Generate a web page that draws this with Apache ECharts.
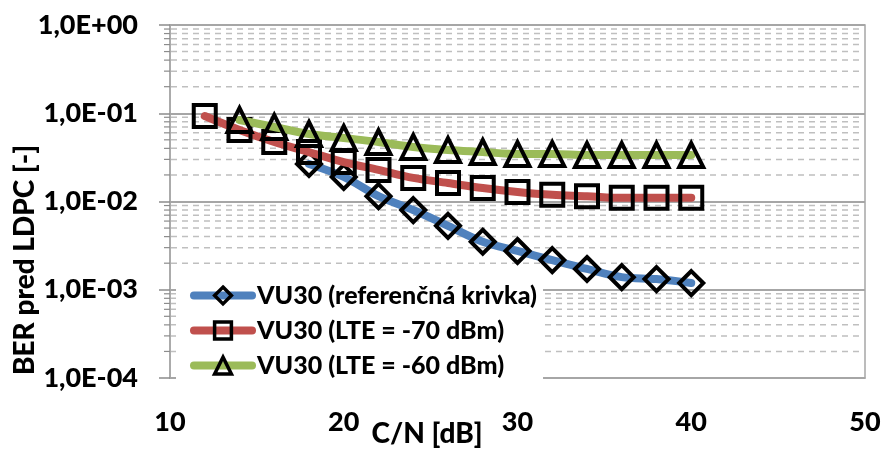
<!DOCTYPE html>
<html>
<head>
<meta charset="utf-8">
<script src="https://cdn.jsdelivr.net/npm/echarts@6/dist/echarts.min.js"></script>
<style>
html,body{margin:0;padding:0;background:#fff;}
#chart{width:885px;height:450px;}
</style>
</head>
<body>
<div id="chart"></div>
<script>
// ---- data ----
const seriesNames = ['VU30 (referenčná krivka)', 'VU30 (LTE = -70 dBm)', 'VU30 (LTE = -60 dBm)'];
const cnRef = [18, 20, 22, 24, 26, 28, 30, 32, 34, 36, 38, 40];
const berRef = [0.0266, 0.0190, 0.0115, 0.0080, 0.0053, 0.0035, 0.00275, 0.00217, 0.00172, 0.00139, 0.00132, 0.00119];
const cnLte70 = [12, 14, 16, 18, 20, 22, 24, 26, 28, 30, 32, 34, 36, 38, 40];
const berLte70 = [0.093, 0.0646, 0.0472, 0.0363, 0.028, 0.0228, 0.0185, 0.0162, 0.0142, 0.0128, 0.0119, 0.0115, 0.0110, 0.0110, 0.0110];
const cnLte60 = [14, 16, 18, 20, 22, 24, 26, 28, 30, 32, 34, 36, 38, 40];
const berLte60 = [0.0839, 0.0699, 0.0582, 0.0524, 0.0472, 0.0415, 0.0383, 0.0364, 0.0345, 0.0345, 0.0336, 0.0336, 0.0336, 0.0336];
const xTickLabels = ['10', '20', '30', '40', '50'];
const yTickValues = [1e-4, 1e-3, 1e-2, 1e-1, 1];
const yTickLabels = ['1,0E-04', '1,0E-03', '1,0E-02', '1,0E-01', '1,0E+00'];
const xTitle = 'C/N [dB]';
const yTitle = 'BER pred LDPC [-]';
const minorMultipliers = [2, 3, 4, 5, 6, 7, 8, 9];
const minorDecades = [1e-4, 1e-3, 1e-2, 1e-1];

// ---- build ----
const FONT = 'Lato';
const FW = 900;
const colors = ['#4F81BD', '#C0504D', '#9BBB59'];
const symbols = ['diamond', 'rect', 'triangle'];
const symbolSizes = [24, 22, 24];
const xs = [cnRef, cnLte70, cnLte60];
const ys = [berRef, berLte70, berLte60];

const minorValues = [];
minorDecades.forEach(d => minorMultipliers.forEach(m => minorValues.push(+(m * d).toPrecision(6))));

function yLabel(v) {
  for (let i = 0; i < yTickValues.length; i++) {
    if (Math.abs(Math.log10(v) - Math.log10(yTickValues[i])) < 1e-6) return yTickLabels[i];
  }
  return '';
}

const series = [];
// minor grid lines + minor ticks
series.push({
  type: 'custom',
  name: '__minor',
  coordinateSystem: 'cartesian2d',
  clip: false,
  silent: true,
  z: 1,
  data: minorValues.map(v => [10, v]),
  renderItem: function (params, api) {
    const p = api.coord([api.value(0), api.value(1)]);
    const pe = api.coord([50, api.value(1)]);
    return {
      type: 'group',
      children: [
        { type: 'line', shape: { x1: p[0] + 1, y1: p[1], x2: pe[0] - 1, y2: p[1] },
          style: { stroke: '#BFBFBF', lineWidth: 1.5, lineDash: [6, 5] } },
        { type: 'line', shape: { x1: p[0] - 6, y1: p[1], x2: p[0], y2: p[1] },
          style: { stroke: '#8C8C8C', lineWidth: 1.2 } }
      ]
    };
  }
});
for (let s = 0; s < 3; s++) {
  series.push({
    type: 'line',
    name: seriesNames[s],
    data: xs[s].map((x, i) => [x, ys[s][i]]),
    smooth: 0.35,
    symbol: symbols[s],
    symbolSize: symbolSizes[s],
    showAllSymbol: true,
    z: 3 + s,
    lineStyle: { color: colors[s], width: 8, cap: 'round', join: 'round' },
    itemStyle: { color: 'rgba(255,255,255,0)', borderColor: '#000', borderWidth: 4 },
    emphasis: { disabled: true },
    animation: false
  });
}

const chart = echarts.init(document.getElementById('chart'), null, { renderer: 'canvas' });
chart.setOption({
  animation: false,
  backgroundColor: '#fff',
  grid: {
    left: 170, right: 20, top: 25, bottom: 72,
    show: true, borderColor: '#A6A6A6', borderWidth: 1.5, backgroundColor: 'transparent'
  },
  xAxis: {
    type: 'value', min: 10, max: 50, interval: 10,
    axisLine: { show: true, lineStyle: { color: '#A6A6A6', width: 1.5 } },
    axisTick: { show: false },
    splitLine: { show: false },
    axisLabel: {
      margin: 31, color: '#000', fontFamily: FONT, fontWeight: FW, fontSize: 27,
      formatter: v => xTickLabels[Math.round((v - 10) / 10)]
    }
  },
  yAxis: {
    type: 'log', logBase: 10, min: 1e-4, max: 1,
    axisLine: { show: true, lineStyle: { color: '#A6A6A6', width: 1.5 } },
    axisTick: { show: true, inside: false, length: 11, lineStyle: { color: '#8C8C8C', width: 1.5 } },
    splitLine: { show: true, lineStyle: { color: '#A6A6A6', width: 1.8 } },
    axisLabel: {
      margin: 32, color: '#000', fontFamily: FONT, fontWeight: FW, fontSize: 27,
      formatter: yLabel
    }
  },
  legend: {
    data: seriesNames,
    orient: 'vertical',
    left: 176, top: 279,
    padding: [4, 6, 4, 14],
    itemGap: 10,
    itemWidth: 58, itemHeight: 21,
    backgroundColor: '#fff',
    selectedMode: false,
    lineStyle: { width: 8, cap: 'round' },
    itemStyle: { color: 'rgba(255,255,255,0)', borderColor: '#000', borderWidth: 3.5 },
    textStyle: { color: '#000', fontFamily: FONT, fontWeight: FW, fontSize: 25 }
  },
  graphic: [
    {
      type: 'text', x: 427, y: 434,
      style: { text: xTitle, fill: '#000', font: FW + ' 28px ' + FONT, align: 'center', verticalAlign: 'middle' }
    },
    {
      type: 'text', x: 25, y: 260, rotation: Math.PI / 2,
      style: { text: yTitle, fill: '#000', font: FW + ' 28px ' + FONT, align: 'center', verticalAlign: 'middle' }
    }
  ],
  series: series
});
</script>
</body>
</html>
